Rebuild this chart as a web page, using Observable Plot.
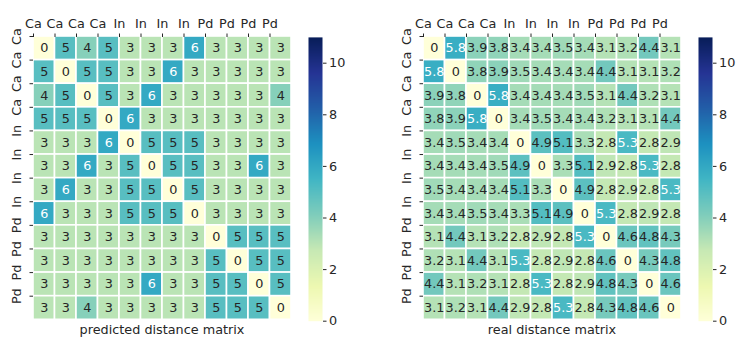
<!DOCTYPE html>
<html><head><meta charset="utf-8">
<script src="https://cdn.jsdelivr.net/npm/d3@7"></script>
<script src="https://cdn.jsdelivr.net/npm/@observablehq/plot@0.6"></script>
<style>
body{margin:0;background:#fff;font-family:"DejaVu Sans",sans-serif;}
#wrap{position:relative;width:738px;height:337px;overflow:hidden;}
.panel{position:absolute;top:0;}
.title{position:absolute;top:322px;font-size:12.8px;line-height:15px;color:#262626;text-align:center;white-space:nowrap;}
</style></head><body><div id="wrap"></div>
<script>
const labels = ["Ca","Ca","Ca","Ca","In","In","In","In","Pd","Pd","Pd","Pd"];
const predicted = [
  [0,5,4,5,3,3,3,6,3,3,3,3],
  [5,0,5,5,3,3,6,3,3,3,3,3],
  [4,5,0,5,3,6,3,3,3,3,3,4],
  [5,5,5,0,6,3,3,3,3,3,3,3],
  [3,3,3,6,0,5,5,5,3,3,3,3],
  [3,3,6,3,5,0,5,5,3,3,6,3],
  [3,6,3,3,5,5,0,5,3,3,3,3],
  [6,3,3,3,5,5,5,0,3,3,3,3],
  [3,3,3,3,3,3,3,3,0,5,5,5],
  [3,3,3,3,3,3,3,3,5,0,5,5],
  [3,3,3,3,3,6,3,3,5,5,0,5],
  [3,3,4,3,3,3,3,3,5,5,5,0]
];
const real = [
  [0,5.8,3.9,3.8,3.4,3.4,3.5,3.4,3.1,3.2,4.4,3.1],
  [5.8,0,3.8,3.9,3.5,3.4,3.4,3.4,4.4,3.1,3.1,3.2],
  [3.9,3.8,0,5.8,3.4,3.4,3.4,3.5,3.1,4.4,3.2,3.1],
  [3.8,3.9,5.8,0,3.4,3.5,3.4,3.4,3.2,3.1,3.1,4.4],
  [3.4,3.5,3.4,3.4,0,4.9,5.1,3.3,2.8,5.3,2.8,2.9],
  [3.4,3.4,3.4,3.5,4.9,0,3.3,5.1,2.9,2.8,5.3,2.8],
  [3.5,3.4,3.4,3.4,5.1,3.3,0,4.9,2.8,2.9,2.8,5.3],
  [3.4,3.4,3.5,3.4,3.3,5.1,4.9,0,5.3,2.8,2.9,2.8],
  [3.1,4.4,3.1,3.2,2.8,2.9,2.8,5.3,0,4.6,4.8,4.3],
  [3.2,3.1,4.4,3.1,5.3,2.8,2.9,2.8,4.6,0,4.3,4.8],
  [4.4,3.1,3.2,3.1,2.8,5.3,2.8,2.9,4.8,4.3,0,4.6],
  [3.1,3.2,3.1,4.4,2.9,2.8,5.3,2.8,4.3,4.8,4.6,0]
];
const titles = ["predicted distance matrix","real distance matrix"];
const colorTicks = [0,2,4,6,8,10];
const colorMax = 11;
const ylgnbu = ["#ffffd9","#edf8b1","#c7e9b4","#7fcdbb","#41b6c4","#1d91c0","#225ea8","#253494","#081d58"];

const stops = ylgnbu.map((_, i) => i * colorMax / (ylgnbu.length - 1));
const colorOpts = {type: "linear", domain: stops, range: ylgnbu, clamp: true};
const lumScale = d3.scaleLinear(stops, ylgnbu).clamp(true);
function luminance(c) {
  const rgb = d3.rgb(c);
  const f = v => { v /= 255; return v <= 0.03928 ? v / 12.92 : Math.pow((v + 0.055) / 1.055, 2.4); };
  return 0.2126 * f(rgb.r) + 0.7152 * f(rgb.g) + 0.0722 * f(rgb.b);
}
const isDarkCell = v => luminance(lumScale(v)) < 0.408;
const fmt = d3.format(".2~g");
const FS = 12.8;
const font = {fontFamily: "DejaVu Sans, sans-serif", fontSize: FS + "px", color: "#262626", background: "transparent", overflow: "visible"};

function heatmap(matrix) {
  const cells = matrix.flatMap((r, i) => r.map((v, j) => ({row: i, col: j, value: v})));
  return Plot.plot({
    width: 300, height: 337,
    marginLeft: 33, marginRight: 9, marginTop: 36, marginBottom: 17.7,
    style: font,
    x: {domain: [0, 12]},
    y: {domain: [0, 12], reverse: true},
    color: colorOpts,
    marks: [
      Plot.rect(cells, {x1: "col", x2: d => d.col + 1, y1: "row", y2: d => d.row + 1, fill: "value", stroke: "white", strokeWidth: 1.6}),
      Plot.text(cells, {filter: d => !isDarkCell(d.value), x: d => d.col + 0.5, y: d => d.row + 0.5, text: d => fmt(d.value), fill: "#262626", fontSize: FS}),
      Plot.text(cells, {filter: d => isDarkCell(d.value), x: d => d.col + 0.5, y: d => d.row + 0.5, text: d => fmt(d.value), fill: "white", fontSize: FS}),
      Plot.axisX({anchor: "top", ticks: d3.range(12), tickFormat: i => labels[i], tickSize: 3.5, tickPadding: 5, fontSize: FS, label: null}),
      Plot.axisY({anchor: "left", ticks: d3.range(12), tickFormat: i => labels[i], tickSize: 3.5, tickPadding: 9, tickRotate: -90, fontSize: FS, label: null})
    ]
  });
}
function colorbar() {
  return Plot.plot({
    width: 48, height: 337,
    marginLeft: 8, marginRight: 26, marginTop: 36.9, marginBottom: 16.3,
    style: font,
    x: {domain: [0, 1], axis: null},
    y: {domain: [0, colorMax], axis: null},
    color: colorOpts,
    marks: [
      Plot.raster({fill: (x, y) => y, x1: 0, x2: 1, y1: 0, y2: colorMax, pixelSize: 1, imageRendering: "auto"}),
      Plot.axisY({anchor: "right", ticks: colorTicks, tickSize: 3.5, tickPadding: 3, fontSize: FS, label: null})
    ]
  });
}
const wrap = document.getElementById("wrap");
function place(node, left) {
  const d = document.createElement("div");
  d.className = "panel"; d.style.left = left + "px";
  d.appendChild(node); wrap.appendChild(d);
}
function title(text, cx) {
  const d = document.createElement("div");
  d.className = "title"; d.textContent = text;
  d.style.left = (cx - 150) + "px"; d.style.width = "300px";
  wrap.appendChild(d);
}
place(heatmap(predicted), 0);
place(colorbar(), 300);
place(heatmap(real), 390);
place(colorbar(), 690);
title(titles[0], 162);
title(titles[1], 552);
</script></body></html>
